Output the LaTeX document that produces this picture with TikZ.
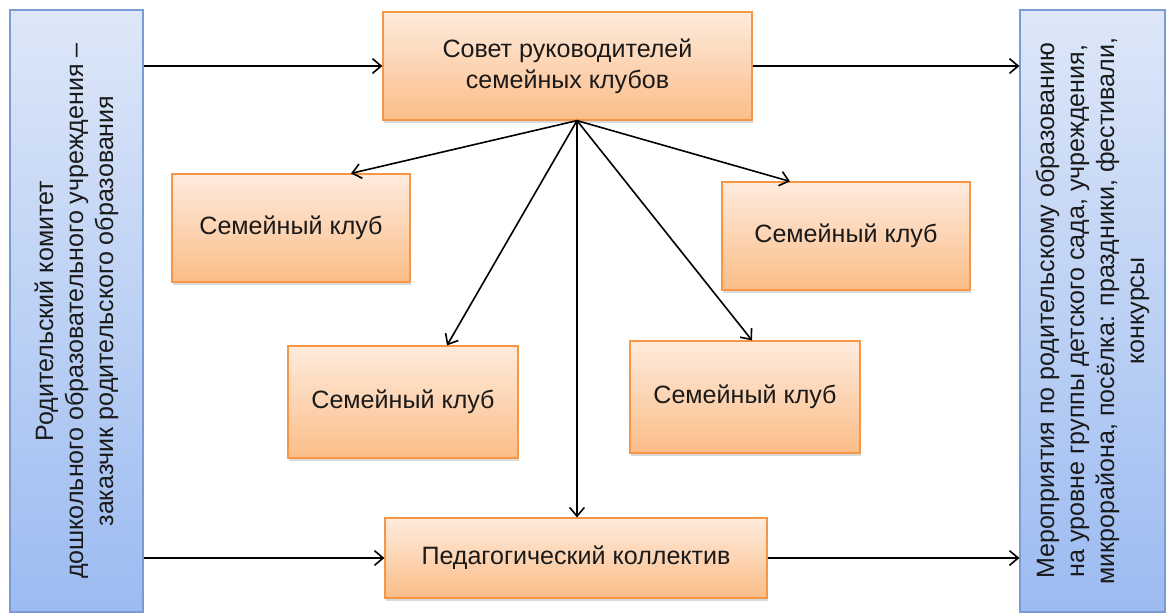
\documentclass[tikz,border=0pt]{standalone}
\usepackage{fontspec}
\setmainfont{Liberation Sans}
\usetikzlibrary{arrows.meta,shadows,calc}
\definecolor{orTop}{HTML}{FEEBDD}
\definecolor{orBot}{HTML}{FBBD88}
\definecolor{orLine}{HTML}{F79646}
\definecolor{blTop}{HTML}{DDE7F8}
\definecolor{blBot}{HTML}{9CBBF1}
\definecolor{blLine}{HTML}{7A9CD3}
\definecolor{txt}{HTML}{1A1A1A}
\tikzset{
  sz/.style 2 args={minimum width=#1*0.75pt, minimum height=#2*0.75pt, inner sep=0pt},
  obox/.style={draw=orLine, line width=0.9pt, top color=orTop, bottom color=orBot,
    drop shadow={shadow xshift=1pt, shadow yshift=-2.2pt, opacity=0.3},
    font=\fontsize{18.8}{23}\selectfont, text=txt, align=center},
  bbox/.style={draw=blLine, line width=0.9pt, top color=blTop, bottom color=blBot},
  vtext/.style={rotate=90, font=\fontsize{18.8}{22.5}\selectfont, text=txt, align=center},
  conn/.style={line width=1.2pt, -{Straight Barb[length=6.5pt,width=11pt,line width=1.2pt]}},
}
\begin{document}
\begin{tikzpicture}[x=0.75pt, y=-0.75pt]
\useasboundingbox (0,0) rectangle (1167,615);

% side boxes
\node[bbox, sz={133}{602}] (left) at (76.5,311) {};
\node[vtext] (lefttext) at (left.center) {Родительский комитет\\дошкольного образовательного учреждения –\\заказчик родительского образования};
\node[bbox, sz={145}{602}] (right) at (1092.5,311) {};
\node[vtext] (righttext) at (right.center) {Мероприятия по родительскому образованию\\на уровне группы детского сада, учреждения,\\микрорайона, посёлка: праздники, фестивали,\\конкурсы};

% orange boxes
\node[obox, sz={369}{108}] (sovet) at (567.5,66) {Совет руководителей\\семейных клубов};
\node[obox, sz={238}{108}] (ul) at (291,228) {Семейный клуб};
\node[obox, sz={248}{108}] (ur) at (846,236) {Семейный клуб};
\node[obox, sz={230}{112}] (ll) at (403,402) {Семейный клуб};
\node[obox, sz={230}{112}] (lr) at (745,397) {Семейный клуб};
\node[obox, sz={382}{80}] (ped) at (576,558) {Педагогический коллектив};

\coordinate (src) at ($(sovet.south)+(9.5,0)$);

% connectors
\draw[conn] (left.east |- sovet.west) -- (sovet.west);
\draw[conn] (sovet.east) -- (sovet.east -| right.west);
\draw[conn] (left.east |- ped.west) -- (ped.west);
\draw[conn] (ped.east) -- (ped.east -| right.west);

\draw[conn] (src) -- ($(ul.north)+(60,0)$);
\draw[conn] (src) -- ($(ur.north)+(-56,0)$);
\draw[conn] (src) -- ($(ll.north)+(44,0)$);
\draw[conn] (src) -- ($(lr.north)+(7,0)$);
\draw[conn] (src) -- ($(ped.north)+(1,0)$);
\end{tikzpicture}
\end{document}
